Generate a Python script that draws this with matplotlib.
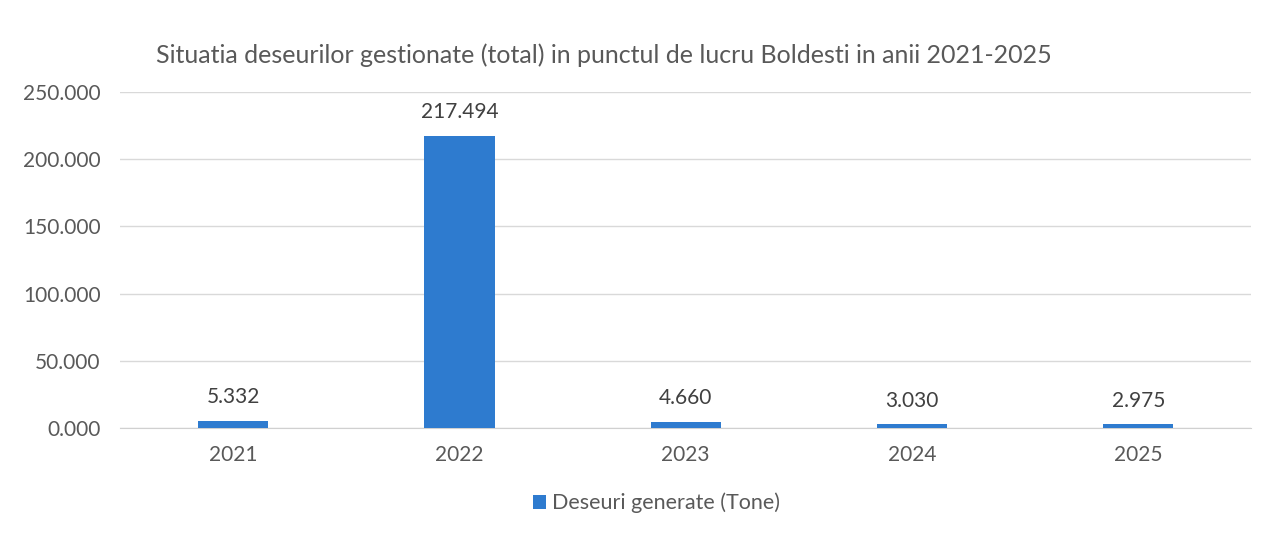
import numpy as np
import matplotlib.pyplot as plt
from matplotlib.ticker import FuncFormatter

years = ["2021", "2022", "2023", "2024", "2025"]
waste = [5.332, 217.494, 4.660, 3.030, 2.975]
yticks = [0, 50, 100, 150, 200, 250]

title = "Situatia deseurilor gestionate (total) in punctul de lucru Boldesti in anii 2021-2025"
series_name = "Deseuri generate (Tone)"

plt.rcParams['font.family'] = ['Lato', 'DejaVu Sans']
txt = "#595959"
blue = "#2E7BCF"

fig = plt.figure(figsize=(12.77, 5.42), dpi=100)
ax = fig.add_axes([0.094, 0.2103, 0.886, 0.6200])

x = np.arange(len(years))
bars = ax.bar(x, waste, width=0.31, color=blue, label=series_name, zorder=3)
for xi, v in zip(x, waste):
    ax.text(xi, v + 10, f"{v:.3f}", ha="center", va="bottom", fontsize=15, color="#404040")

ax.set_xlim(-0.5, len(years) - 0.5)
ax.set_ylim(0, 250)
ax.set_yticks(yticks)
ax.yaxis.set_major_formatter(FuncFormatter(lambda v, p: f"{v:.3f}"))
ax.set_xticks(x)
ax.set_xticklabels(years)
ax.tick_params(axis="both", length=0, labelsize=15, labelcolor=txt)
ax.tick_params(axis="x", pad=12)
ax.tick_params(axis="y", pad=14)
ax.grid(axis="y", color="#d9d9d9", linewidth=1, zorder=0)
for s in ["top", "right", "left"]:
    ax.spines[s].set_visible(False)
ax.spines["bottom"].set_color("#d0d0d0")

fig.text(0.473, 0.898, title, ha="center", va="center", fontsize=18, color=txt)
fig.legend(loc="center", bbox_to_anchor=(0.514, 0.072), frameon=False, fontsize=15.5,
           handlelength=0.6, handleheight=0.6, handletextpad=0.3, labelcolor=txt)

fig.savefig("out.png", dpi=100)
